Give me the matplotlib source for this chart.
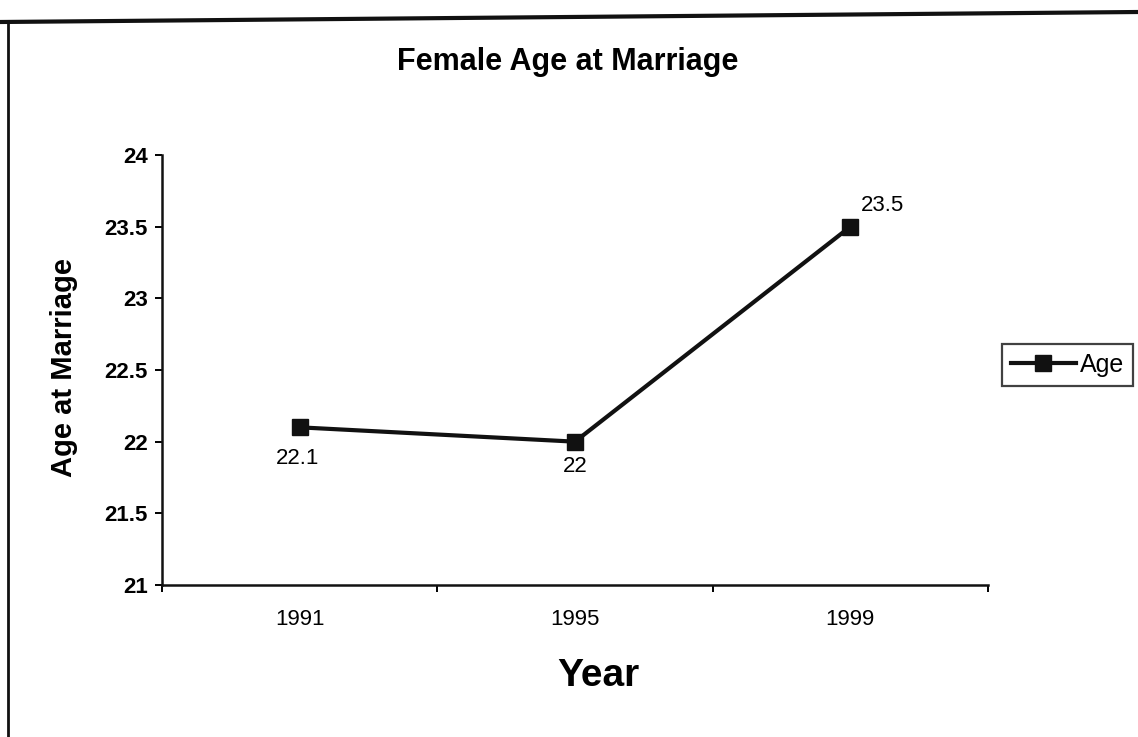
import matplotlib
matplotlib.use("Agg")
import matplotlib.pyplot as plt
from matplotlib.lines import Line2D

plt.rcParams['font.family'] = ['Liberation Sans', 'DejaVu Sans']

years = ["1991", "1995", "1999"]
ages = [22.1, 22.0, 23.5]
data_labels = ["22.1", "22", "23.5"]
yticks = [21, 21.5, 22, 22.5, 23, 23.5, 24]
ytick_labels = ["21", "21.5", "22", "22.5", "23", "23.5", "24"]

W, H = 1138, 737
fig = plt.figure(figsize=(W / 100, H / 100), dpi=100)
ax = fig.add_axes([162/W, 1-585/H, (988-162)/W, (585-155)/H])

x = list(range(len(years)))
line, = ax.plot(x, ages, color='#111111', lw=3, marker='s', markersize=12,
                markerfacecolor='#111111', markeredgecolor='#111111', label='Age')

ax.set_xlim(-0.5, 2.5)
ax.set_ylim(21, 24)
ax.set_yticks(yticks)
ax.set_yticklabels(ytick_labels, fontsize=16, fontweight='bold')
ax.set_xticks([-0.5, 0.5, 1.5, 2.5])
ax.set_xticklabels([])
ax.set_xticks(x, minor=True)
ax.set_xticklabels(years, minor=True, fontsize=16)
ax.tick_params(axis='x', which='minor', length=0, pad=17)
ax.tick_params(axis='x', which='major', length=5, width=1.4, direction='out')
ax.tick_params(axis='y', length=5, width=1.4, direction='out', pad=5)

for s in ['top', 'right']:
    ax.spines[s].set_visible(False)
for s in ['left', 'bottom']:
    ax.spines[s].set_linewidth(1.8)
    ax.spines[s].set_color('#111111')

offsets = [(-1.5, -22.5), (0, -18), (23, 15)]
for xi, yi, lab, off in zip(x, ages, data_labels, offsets):
    ax.annotate(lab, (xi, yi), textcoords='offset points', xytext=off,
                ha='center', va='center', fontsize=16)

fig.text(64/W, 1-368/H, "Age at Marriage", rotation=90, ha='center', va='center',
         fontsize=21, fontweight='bold')
fig.text(598/W, 1-676/H, "Year", ha='center', va='center',
         fontsize=28, fontweight='bold')
fig.text(568/W, 1-62/H, "Female Age at Marriage", ha='center', va='center',
         fontsize=22, fontweight='bold')

leg = fig.legend(handles=[line], loc='center left', bbox_to_anchor=(1002/W, 1-365/H),
                 frameon=True, fancybox=False, fontsize=18, handlelength=2.6,
                 handletextpad=0.15, borderpad=0.35, borderaxespad=0,
                 edgecolor='#111111')
leg.get_frame().set_linewidth(1.6)

# scanned page border
fig.add_artist(Line2D([0, 1], [1-22/H, 1-12/H], transform=fig.transFigure,
                      color='#111111', lw=3))
fig.add_artist(Line2D([8/W, 8/W], [0, 1-22/H], transform=fig.transFigure,
                      color='#111111', lw=2))

fig.savefig("out.png", dpi=100)
